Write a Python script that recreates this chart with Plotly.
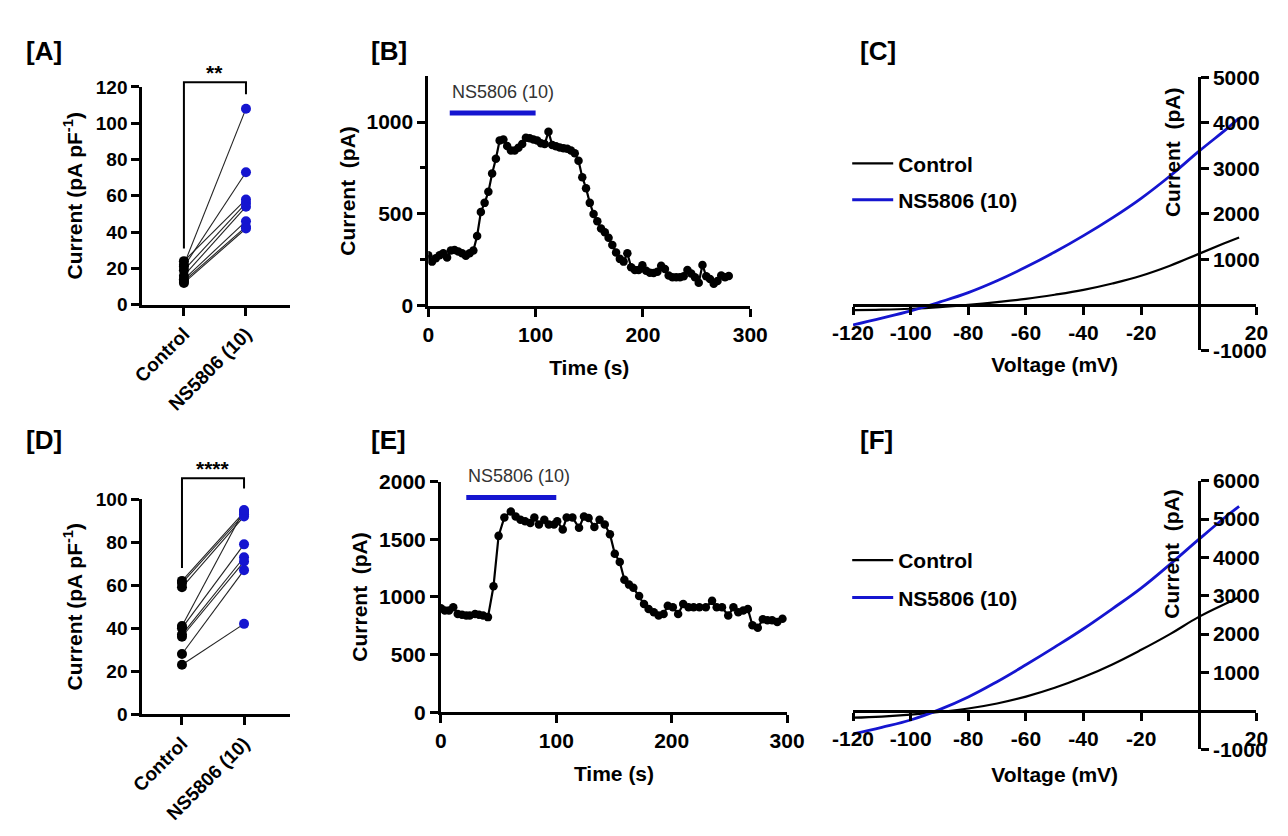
import plotly.graph_objects as go

W, H = 1288, 836
BLUE = "#1515d0"
FONT = "Arial, Liberation Sans, sans-serif"

# ---------------- data ----------------
cats = ["Control", "NS5806 (10)"]

A_control = [22, 21, 24, 19, 16, 14, 13, 12]
A_ns = [108, 73, 58, 56, 54, 46, 43, 42]

D_control = [62, 61, 59, 41, 40, 37, 36, 28, 23]
D_ns = [94, 93, 92, 95, 79, 73, 71, 67, 42]

B_time = [0, 3.5, 7, 10.5, 14, 17.5, 21, 24.5, 28, 31.5, 35, 38.5, 42, 45.5, 49, 52.5,
          56, 59.5, 63, 66.5, 70, 73.5, 77, 80.5, 84, 87.5, 91, 94.5, 98, 101.5, 105,
          108.5, 112, 115.5, 119, 122.5, 126, 129.5, 133, 136.5, 140, 143.5, 147, 150.5,
          154, 157.5, 161, 164.5, 168, 171.5, 175, 178.5, 182, 185.5, 189, 192.5, 196,
          199.5, 203, 206.5, 210, 213.5, 217, 220.5, 224, 227.5, 231, 234.5, 238, 241.5,
          245, 248.5, 252, 255.5, 259, 262.5, 266, 269.5, 273, 276.5, 280]
B_current = [275, 240, 258, 275, 285, 262, 300, 303, 295, 285, 272, 285, 300, 380, 510, 560,
             620, 720, 800, 900, 905, 870, 845, 845, 860, 880, 915, 912, 905, 900, 885,
             880, 948, 875, 868, 862, 858, 855, 845, 830, 790, 700, 640, 560,
             500, 460, 420, 400, 370, 330, 290, 255, 240, 285, 210, 195, 195,
             220, 190, 180, 178, 185, 218, 200, 165, 155, 155, 155, 160, 195,
             175, 155, 125, 222, 160, 145, 120, 135, 165, 155, 162]

E_time = [0, 3.4, 7, 10.7, 14.6, 18.3, 22, 25, 29.6, 33, 36.6, 40.8, 45.6, 50, 55, 60.6,
          64.8, 69, 73, 77.5, 81, 85, 89.6, 93.5, 98, 100.8, 105.6, 109, 114, 119.7, 124,
          128, 133, 137.5, 142, 146.5, 150.7, 155, 159, 163, 166.8, 171.8, 176, 180,
          184.5, 188.7, 193, 196.6, 201, 205.6, 210, 214.6, 219, 224, 229.6, 235, 239,
          243.6, 249, 253.5, 257.7, 262, 266, 270, 274.6, 279, 283, 287, 291.5, 296]
E_current = [901, 882, 882, 910, 853, 845, 839, 839, 853, 845, 839, 825, 1093, 1530, 1690, 1741,
             1699, 1670, 1656, 1642, 1690, 1628, 1670, 1628, 1628, 1656, 1586, 1690, 1690, 1600, 1699,
             1685, 1606, 1670, 1628, 1544, 1375, 1304, 1149, 1107, 1079, 1008, 938, 896,
             868, 839, 853, 924, 910, 853, 938, 910, 910, 910, 910, 966, 910,
             910, 839, 910, 868, 882, 896, 755, 732, 806, 797, 797, 783, 811]

V_mv = [-120, -110, -100, -90, -80, -70, -60, -50, -40, -30, -20, -10, 0, 10, 14]
C_control = [-115, -105, -85, -50, 0, 60, 130, 222, 330, 470, 640, 860, 1120, 1380, 1480]
C_ns = [-440, -290, -130, 60, 270, 530, 830, 1160, 1520, 1910, 2340, 2830, 3370, 3880, 4100]
F_control = [-180, -150, -100, -30, 60, 190, 370, 600, 880, 1210, 1590, 2000, 2450, 2820, 2960]
F_ns = [-600, -430, -240, 30, 360, 760, 1200, 1660, 2140, 2660, 3200, 3820, 4470, 5100, 5330]

iv_xticks = [-120, -100, -80, -60, -40, -20, 20]
C_yticks = [-1000, 1000, 2000, 3000, 4000, 5000]
F_yticks = [-1000, 1000, 2000, 3000, 4000, 5000, 6000]

# ---------------- layout helpers ----------------
def px_x(p):
    return p / W

def px_y(p):
    return 1 - p / H

def dom_x(a, b):
    return [px_x(a), px_x(b)]

def dom_y(top, bottom):
    return [px_y(bottom), px_y(top)]

def data_to_paper(v, dom, rng):
    return dom[0] + (v - rng[0]) / (rng[1] - rng[0]) * (dom[1] - dom[0])

def bold(size):
    return dict(family=FONT, size=size, color="black", weight="bold")

def axis_style(fs=21, **kw):
    d = dict(showline=True, linewidth=2.8, linecolor="black", ticks="outside",
             ticklen=8, tickwidth=2.8, tickcolor="black", showgrid=False,
             zeroline=False, tickfont=bold(fs), fixedrange=True)
    d.update(kw)
    return d

def hyphen_labels(vals):
    return [str(v) for v in vals]

# panel geometry (px)
A_xd, A_yd = dom_x(125, 277), dom_y(77, 301)
A_xr, A_yr = [(125 - 168) / 64, (277 - 168) / 64], [0, 120]
D_xd, D_yd = dom_x(125, 277), dom_y(501, 722)
D_xr, D_yr = [(125 - 166) / 64, (277 - 166) / 64], [0, 100]
B_xd, B_yd = dom_x(420, 752), dom_y(66, 302)
B_xr, B_yr = [0, 300], [0, 1250]
E_xd, E_yd = dom_x(433, 790), dom_y(483, 720)
E_xr, E_yr = [0, 300], [0, 2000]
C_xd, C_yd = dom_x(858, 1274), dom_y(67, 348)
C_xr, C_yr = [-120, 20], [-1000, 5000]
F_xd, F_yd = dom_x(858, 1274), dom_y(482, 758)
F_xr, F_yr = [-120, 20], [-1000, 6000]

fig = go.Figure()

# ---------------- paired plots A and D ----------------
def paired(ctrl, ns, xa, ya):
    lx, ly = [], []
    for c, n in zip(ctrl, ns):
        lx += [0, 1, None]
        ly += [c, n, None]
    fig.add_trace(go.Scatter(x=lx, y=ly, mode="lines", line=dict(color="#222", width=1.1),
                             xaxis=xa, yaxis=ya, showlegend=False, hoverinfo="skip"))
    fig.add_trace(go.Scatter(x=[0] * len(ctrl), y=ctrl, mode="markers",
                             marker=dict(color="black", size=10), xaxis=xa, yaxis=ya,
                             showlegend=False, name="Control"))
    fig.add_trace(go.Scatter(x=[1] * len(ns), y=ns, mode="markers",
                             marker=dict(color=BLUE, size=10), xaxis=xa, yaxis=ya,
                             showlegend=False, name="NS5806 (10)"))

paired(A_control, A_ns, "x", "y")
paired(D_control, D_ns, "x4", "y4")

# ---------------- time courses B and E ----------------
for t, v, xa, ya in [(B_time, B_current, "x2", "y2"), (E_time, E_current, "x5", "y5")]:
    fig.add_trace(go.Scatter(x=t, y=v, mode="lines+markers",
                             line=dict(color="black", width=2.2),
                             marker=dict(color="black", size=8.5),
                             xaxis=xa, yaxis=ya, showlegend=False))

# ---------------- I-V curves C and F ----------------
for ctrl, ns, xa, ya, lg in [(C_control, C_ns, "x3", "y3", "legend"),
                             (F_control, F_ns, "x6", "y6", "legend2")]:
    fig.add_trace(go.Scatter(x=V_mv, y=ctrl, mode="lines",
                             line=dict(color="black", width=2.2, shape="spline", smoothing=1.2),
                             name="Control", xaxis=xa, yaxis=ya, legend=lg, legendgroup=lg + "c"))
    fig.add_trace(go.Scatter(x=V_mv, y=ns, mode="lines",
                             line=dict(color=BLUE, width=2.8, shape="spline", smoothing=1.2),
                             name="NS5806 (10)", xaxis=xa, yaxis=ya, legend=lg, legendgroup=lg + "n"))

# ---------------- axes ----------------
cat_kw = dict(tickvals=[0, 1], ticktext=cats, tickangle=-45)
ytitle_A = dict(text="Current (pA pF<sup>-1</sup>)", font=bold(21), standoff=8)
ytitle_B = dict(text="Current\u00a0 (pA)", font=bold(21), standoff=6)

layout = dict(
    xaxis=axis_style(fs=19, domain=A_xd, range=A_xr, anchor="y", **cat_kw),
    yaxis=axis_style(fs=19, domain=A_yd, range=A_yr, anchor="x", tickvals=[0, 20, 40, 60, 80, 100, 120],
                     title=ytitle_A),
    xaxis4=axis_style(fs=19, domain=D_xd, range=D_xr, anchor="y4", **cat_kw),
    yaxis4=axis_style(fs=19, domain=D_yd, range=D_yr, anchor="x4", tickvals=[0, 20, 40, 60, 80, 100],
                      title=ytitle_A),
    xaxis2=axis_style(domain=B_xd, range=B_xr, anchor="y2", tickvals=[0, 100, 200, 300],
                      title=dict(text="Time (s)", font=bold(21), standoff=16)),
    yaxis2=axis_style(domain=B_yd, range=B_yr, anchor="x2", tickvals=[0, 500, 1000],
                      minor=dict(tickvals=[250, 750], ticklen=5, tickwidth=2.5, ticks="outside", tickcolor="black"),
                      title=ytitle_B),
    xaxis5=axis_style(domain=E_xd, range=E_xr, anchor="y5", tickvals=[0, 100, 200, 300],
                      title=dict(text="Time (s)", font=bold(21), standoff=16)),
    yaxis5=axis_style(domain=E_yd, range=E_yr, anchor="x5", tickvals=[0, 500, 1000, 1500, 2000],
                      title=ytitle_B),
)

for n, xd, yd, xr, yr, yt, so in [(3, C_xd, C_yd, C_xr, C_yr, C_yticks, 14),
                                  (6, F_xd, F_yd, F_xr, F_yr, F_yticks, 18)]:
    layout[f"xaxis{n}"] = axis_style(domain=xd, range=xr, anchor="free",
                                     position=data_to_paper(0, yd, yr),
                                     tickvals=iv_xticks, ticktext=hyphen_labels(iv_xticks),
                                     title=dict(text="Voltage (mV)", font=bold(21), standoff=so))
    layout[f"yaxis{n}"] = axis_style(domain=yd, range=yr, anchor="free", side="right",
                                     position=data_to_paper(0, xd, xr),
                                     tickvals=yt, ticktext=hyphen_labels(yt))

fig.update_layout(**layout)

# ---------------- annotations & shapes ----------------
ann = []
shapes = []

# panel letters
for lab, x, y in [("[A]", 3, 40), ("[B]", 359, 40), ("[C]", 863, 40),
                  ("[D]", 3, 440), ("[E]", 359, 440), ("[F]", 863, 440)]:
    ann.append(dict(text=lab, x=px_x(x), y=px_y(y), xref="paper", yref="paper",
                    xanchor="left", yanchor="middle", showarrow=False, font=bold(26)))

# significance brackets (data coordinates converted to paper)
for xd, yd, xr, yr, top, left_end, right_end, stars in [
        (A_xd, A_yd, A_xr, A_yr, 122.6, 31, 116, "**"),
        (D_xd, D_yd, D_xr, D_yr, 109.7, 68, 105, "****")]:
    x0 = data_to_paper(0, xd, xr)
    x1 = data_to_paper(1, xd, xr)
    yt = data_to_paper(top, yd, yr)
    path = (f"M {x0},{data_to_paper(left_end, yd, yr)} L {x0},{yt} "
            f"L {x1},{yt} L {x1},{data_to_paper(right_end, yd, yr)}")
    shapes.append(dict(type="path", path=path, xref="paper", yref="paper",
                       line=dict(color="black", width=2)))
    ann.append(dict(text=stars, x=(x0 + x1) / 2, y=yt, xref="paper", yref="paper",
                    xanchor="center", yanchor="bottom", showarrow=False, yshift=-4,
                    font=bold(21)))

# drug application bars
for xa, ya, xd, yd, xr, yr, t0, t1, ybar, ytxt in [
        ("x2", "y2", B_xd, B_yd, B_xr, B_yr, 20, 100, 1050, 1165),
        ("x5", "y5", E_xd, E_yd, E_xr, E_yr, 22, 100, 1862, 2050)]:
    shapes.append(dict(type="line", xref=xa, yref=ya, x0=t0, x1=t1, y0=ybar, y1=ybar,
                       line=dict(color=BLUE, width=5)))
    ann.append(dict(text="NS5806 (10)", x=data_to_paper(t0, xd, xr), y=data_to_paper(ytxt, yd, yr),
                    xref="paper", yref="paper", xanchor="left", yanchor="middle", showarrow=False,
                    font=dict(family=FONT, size=18, color="#333")))

# IV y-axis titles
for y in [144, 557]:
    ann.append(dict(text="Current\u00a0 (pA)", x=px_x(1187), y=px_y(y), xref="paper", yref="paper",
                    xanchor="center", yanchor="middle", textangle=-90, showarrow=False,
                    font=bold(21)))

legend_common = dict(bgcolor="rgba(0,0,0,0)", xanchor="left", yanchor="top",
                     font=bold(21), itemwidth=41)
fig.update_layout(
    annotations=ann, shapes=shapes,
    legend=dict(x=px_x(852), y=px_y(135), tracegroupgap=6, **legend_common),
    legend2=dict(x=px_x(852), y=px_y(543), tracegroupgap=7, **legend_common),
    width=W, height=H, margin=dict(l=0, r=0, t=0, b=0),
    paper_bgcolor="white", plot_bgcolor="white",
    font=dict(family=FONT, color="black"),
)

fig.write_html("out.html", config={"displayModeBar": False},
               post_script="document.body.style.margin='0';")
